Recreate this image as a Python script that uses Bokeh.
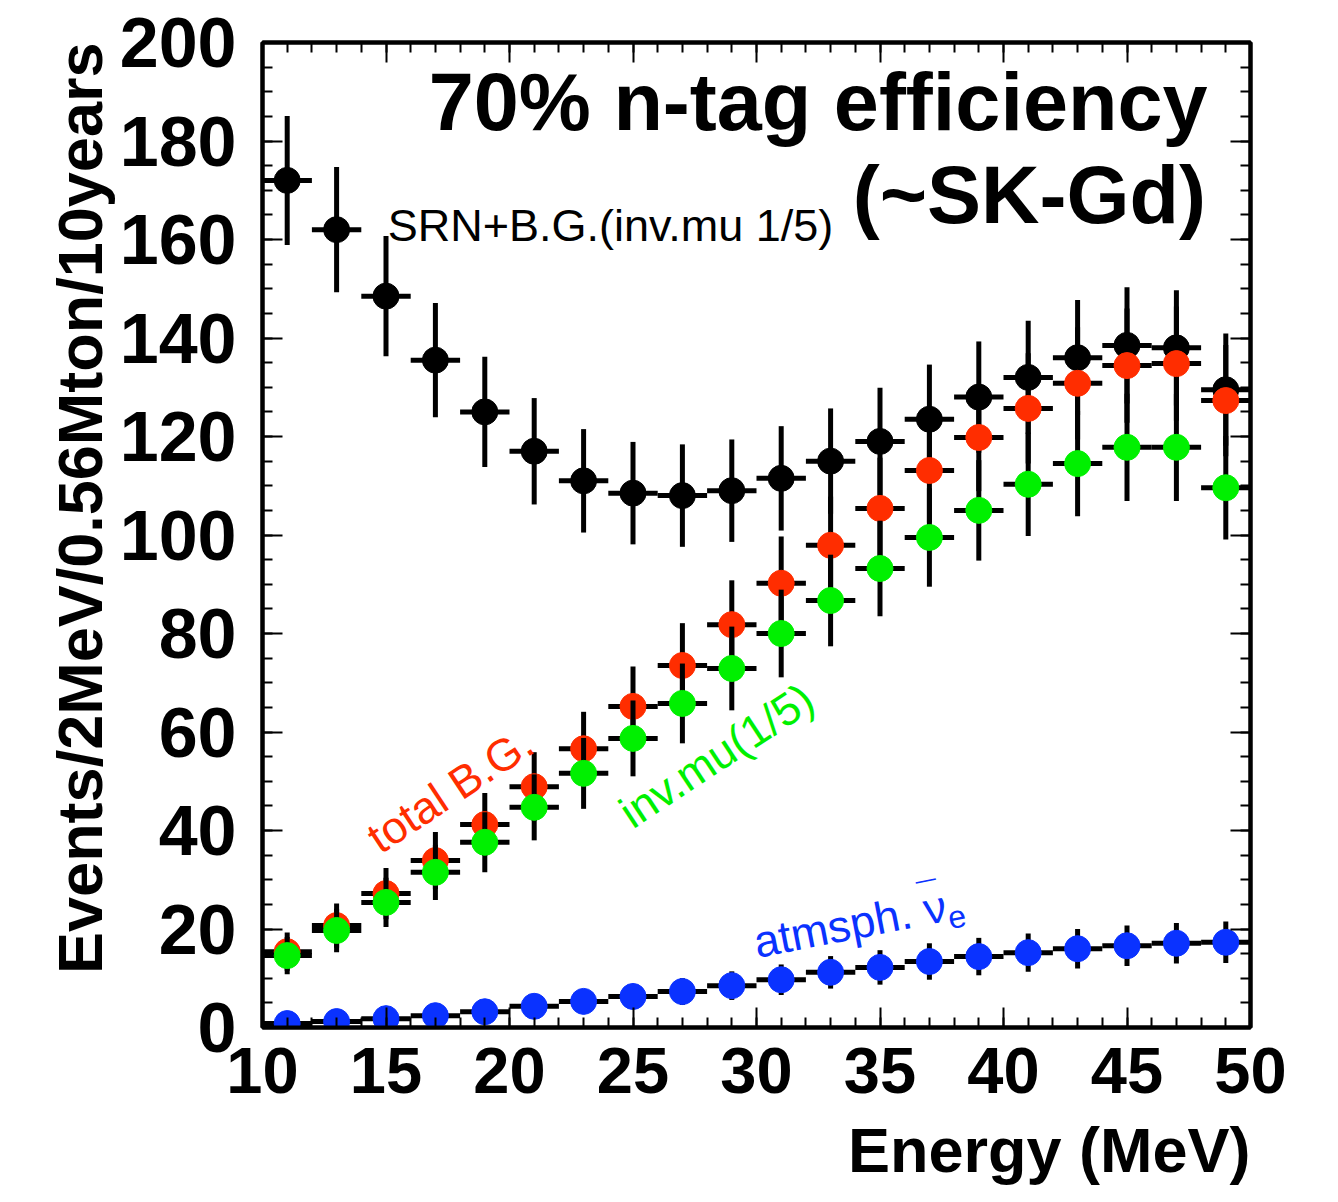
import math

from bokeh.plotting import figure
from bokeh.models import (Range1d, FixedTicker, LinearAxis, Label, Title,
                          CustomJSTickFormatter, ColumnDataSource)
from bokeh.embed import file_html
from bokeh.resources import INLINE

# ---- data: 2 MeV bins, events / 2MeV / 0.56 Mton / 10 years ----
energy = [11, 13, 15, 17, 19, 21, 23, 25, 27, 29,
          31, 33, 35, 37, 39, 41, 43, 45, 47, 49]
bin_half_width = 1.0

srn_bg = [172.0, 162.0, 148.5, 135.5, 125.0, 117.0, 111.0, 108.5, 108.0, 109.0,
          111.5, 115.0, 119.0, 123.5, 128.0, 132.0, 136.0, 138.5, 138.0, 129.5]
srn_bg_err = [13.1, 12.7, 12.2, 11.6, 11.2, 10.8, 10.5, 10.4, 10.4, 10.4,
              10.6, 10.7, 10.9, 11.1, 11.3, 11.5, 11.7, 11.8, 11.7, 11.4]

total_bg = [15.4, 20.7, 27.2, 33.9, 41.2, 48.9, 56.6, 65.2, 73.5, 81.8,
            90.2, 97.9, 105.4, 113.1, 119.8, 125.7, 130.8, 134.4, 134.8, 127.3]
total_bg_err = [3.9, 4.5, 5.2, 5.8, 6.4, 7.0, 7.5, 8.1, 8.6, 9.0,
                9.5, 9.9, 10.3, 10.6, 10.9, 11.2, 11.4, 11.6, 11.6, 11.3]

inv_mu = [14.6, 19.7, 25.4, 31.5, 37.6, 44.7, 51.6, 58.7, 65.8, 72.9,
          80.0, 86.7, 93.2, 99.5, 105.0, 110.3, 114.5, 117.8, 117.8, 109.6]
inv_mu_err = [3.8, 4.4, 5.0, 5.6, 6.1, 6.7, 7.2, 7.7, 8.1, 8.5,
              8.9, 9.3, 9.7, 10.0, 10.2, 10.5, 10.7, 10.9, 10.9, 10.5]

atm_nue = [0.8, 1.2, 1.8, 2.4, 3.2, 4.3, 5.3, 6.3, 7.3, 8.5,
           9.7, 11.2, 12.2, 13.4, 14.4, 15.2, 16.0, 16.6, 17.1, 17.3]
atm_nue_err = [0.9, 1.1, 1.3, 1.5, 1.8, 2.1, 2.3, 2.5, 2.7, 2.9,
               3.1, 3.3, 3.5, 3.7, 3.8, 3.9, 4.0, 4.1, 4.1, 4.2]

x_major_ticks = [10, 15, 20, 25, 30, 35, 40, 45, 50]
x_minor_ticks = list(range(10, 51))
y_major_ticks = [0, 20, 40, 60, 80, 100, 120, 140, 160, 180, 200]
y_minor_ticks = list(range(0, 201, 5))

RED = "#ff2d00"
GREEN = "#00f000"
BLUE = "#0a32ff"
FONT = "Liberation Sans"

p = figure(width=1338, height=1202,
           x_range=Range1d(10, 50), y_range=Range1d(0, 200),
           output_backend="svg", toolbar_location=None,
           min_border_left=262, min_border_right=88,
           min_border_top=42, min_border_bottom=175)
p.xgrid.visible = False
p.ygrid.visible = False
p.outline_line_color = "black"
p.outline_line_width = 4
p.background_fill_color = "white"
p.border_fill_color = "white"


def style_axis(ax, ticker, show_labels, label_size="67px", standoff=22):
    ax.ticker = ticker
    ax.axis_line_color = "black"
    ax.axis_line_width = 4
    ax.major_tick_in = 20
    ax.major_tick_out = 0
    ax.minor_tick_in = 10
    ax.minor_tick_out = 0
    ax.major_tick_line_width = 2
    ax.minor_tick_line_width = 2
    ax.major_label_text_font = FONT
    ax.major_label_text_font_style = "bold"
    ax.major_label_text_font_size = label_size
    ax.major_label_text_color = "black"
    ax.major_label_standoff = standoff
    if not show_labels:
        ax.formatter = CustomJSTickFormatter(code="return ''")
        ax.major_label_standoff = 0


xt = FixedTicker(ticks=x_major_ticks, minor_ticks=x_minor_ticks)
yt = FixedTicker(ticks=y_major_ticks, minor_ticks=y_minor_ticks)
style_axis(p.xaxis[0], xt, True, label_size="65px", standoff=20)
style_axis(p.yaxis[0], yt, True, label_size="70px", standoff=26)

top_axis = LinearAxis()
right_axis = LinearAxis()
style_axis(top_axis, xt, False)
style_axis(right_axis, yt, False)
p.add_layout(top_axis, "above")
p.add_layout(right_axis, "right")

# ---- axis titles, pushed to the far end of each axis ----
p.add_layout(Title(text="Events/2MeV/0.56Mton/10years", align="right",
                   text_font=FONT, text_font_style="bold",
                   text_font_size="63px", text_color="black",
                   standoff=4, offset=0), "left")
p.add_layout(Title(text="Energy (MeV)", align="right",
                   vertical_align="bottom",
                   text_font=FONT, text_font_style="bold",
                   text_font_size="63px", text_color="black",
                   standoff=35, offset=0), "below")


def error_bars(values, errors):
    src = ColumnDataSource(dict(
        x=energy,
        y=values,
        x0=[e - bin_half_width for e in energy],
        x1=[e + bin_half_width for e in energy],
        lo=[v - s for v, s in zip(values, errors)],
        hi=[v + s for v, s in zip(values, errors)],
    ))
    p.segment(x0="x0", y0="y", x1="x1", y1="y", source=src,
              line_color="black", line_width=5)
    p.segment(x0="x", y0="lo", x1="x", y1="hi", source=src,
              line_color="black", line_width=5)
    return src


def markers(src, color):
    p.scatter(x="x", y="y", source=src, size=26, marker="circle",
              fill_color=color, line_color=color, line_width=1)


s_black = error_bars(srn_bg, srn_bg_err)
markers(s_black, "black")
s_red = error_bars(total_bg, total_bg_err)
markers(s_red, RED)
s_green = error_bars(inv_mu, inv_mu_err)
markers(s_green, GREEN)
s_blue = error_bars(atm_nue, atm_nue_err)
markers(s_blue, BLUE)

# ---- headline ----
p.add_layout(Label(x=48.26, y=188.0, text="70% n-tag efficiency",
                   text_align="right", text_baseline="alphabetic",
                   text_font=FONT, text_font_style="bold",
                   text_font_size="81px", text_color="black"))
p.add_layout(Label(x=48.2, y=169.0, text="(~SK-Gd)",
                   text_align="right", text_baseline="alphabetic",
                   text_font=FONT, text_font_style="bold",
                   text_font_size="81px", text_color="black"))

# ---- series annotations ----
p.add_layout(Label(x=15.07, y=162.8, text="SRN+B.G.(inv.mu 1/5)",
                   text_align="left", text_baseline="alphabetic",
                   text_font=FONT, text_font_size="45px", text_color="black"))

tilt = math.radians(33.5)
p.add_layout(Label(x=14.43, y=37.7, text="total B.G.", angle=tilt,
                   text_align="left", text_baseline="alphabetic",
                   text_font=FONT, text_font_size="45px", text_color=RED))
p.add_layout(Label(x=24.64, y=42.8, text="inv.mu(1/5)", angle=tilt,
                   text_align="left", text_baseline="alphabetic",
                   text_font=FONT, text_font_size="45px", text_color=GREEN))

# atmospheric anti-nu_e label, built from pieces along a tilted baseline
atm_angle = math.radians(11)
ca, sa = math.cos(atm_angle), math.sin(atm_angle)
atm_x, atm_y = 29.91, 17.2


def along(d, h):
    """Screen offset for a distance d along the tilted baseline and h above it."""
    return d * ca - h * sa, d * sa + h * ca


p.add_layout(Label(x=atm_x, y=atm_y, text="atmsph. ν", angle=atm_angle,
                   text_align="left", text_baseline="alphabetic",
                   text_font=FONT, text_font_size="45px", text_color=BLUE))
ox, oy = along(180, 14)
p.add_layout(Label(x=atm_x, y=atm_y, x_offset=ox, y_offset=oy, text="¯",
                   angle=atm_angle, text_align="center",
                   text_baseline="alphabetic", text_font=FONT,
                   text_font_size="36px", text_color=BLUE))
ox, oy = along(195, -13)
p.add_layout(Label(x=atm_x, y=atm_y, x_offset=ox, y_offset=oy, text="e",
                   angle=atm_angle, text_align="left",
                   text_baseline="alphabetic", text_font=FONT,
                   text_font_size="32px", text_color=BLUE))

open("out.html", "w").write(file_html(p, INLINE))
